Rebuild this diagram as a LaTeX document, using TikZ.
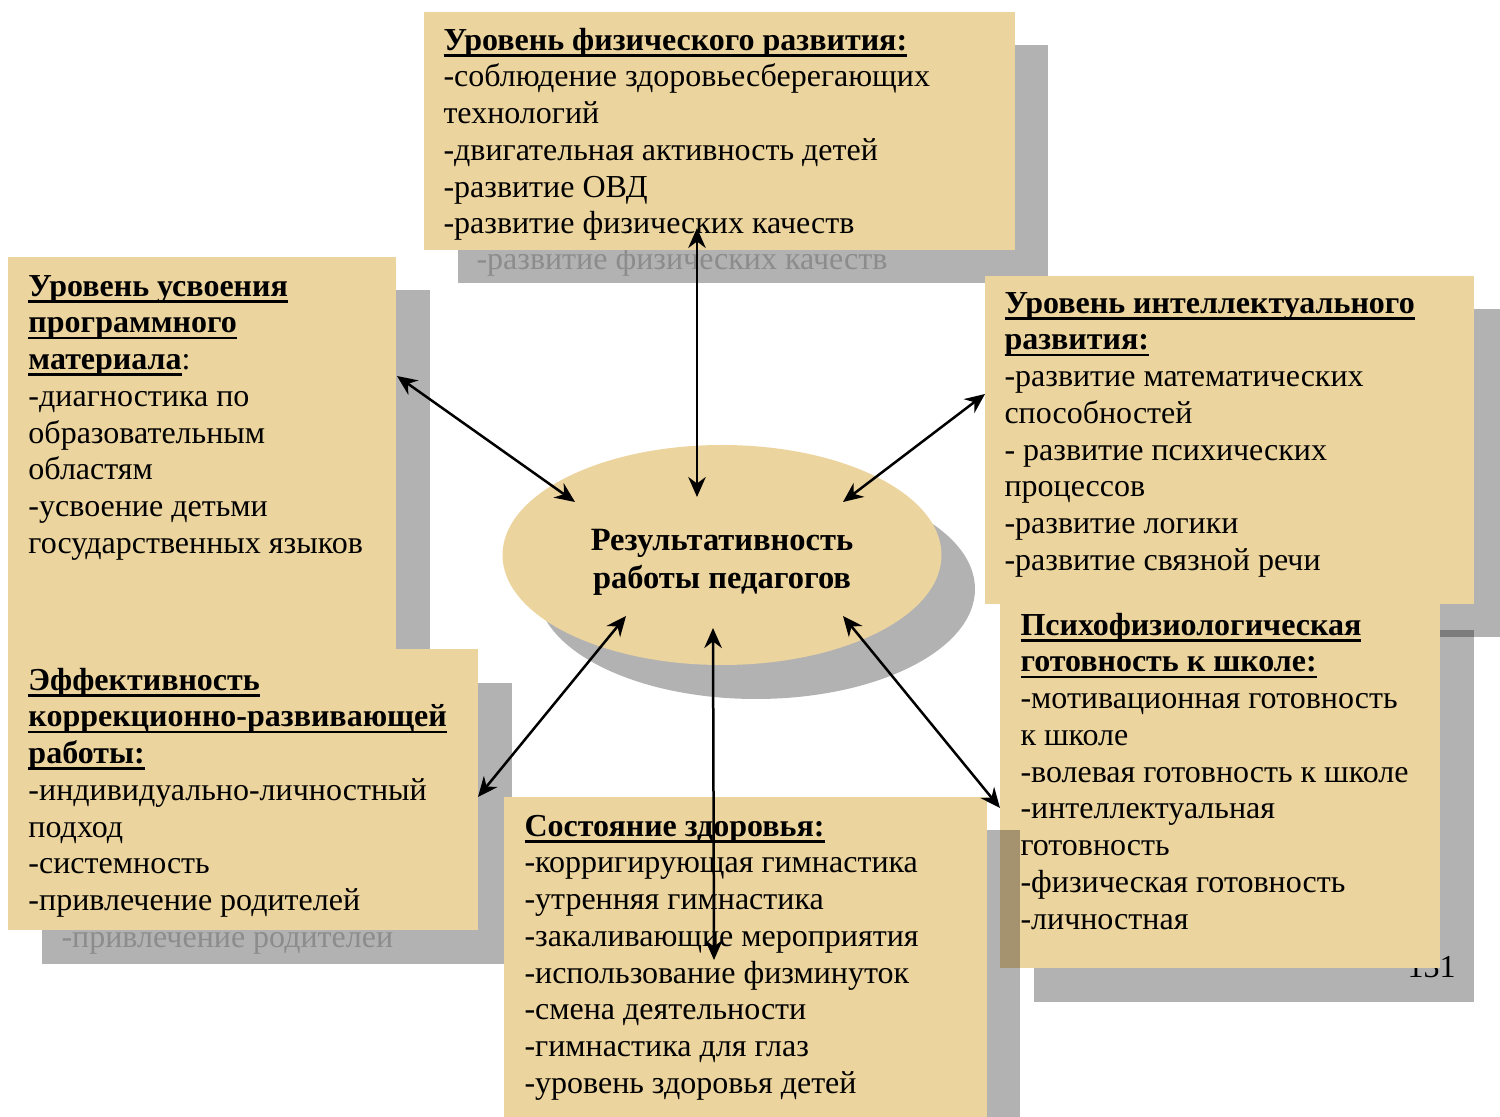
\documentclass[tikz,border=0pt]{standalone}
\usepackage{fontspec}
\setmainfont{Liberation Serif}
\usetikzlibrary{positioning,arrows.meta,shapes.geometric}

\definecolor{parch}{RGB}{236,212,158}
\newcommand\hdline[1]{\setbox0=\hbox{\bfseries #1}\rlap{\rule[-2.6pt]{\wd0}{1.1pt}}\box0}

\newcommand\physitems{\strut\hdline{Уровень физического развития:}\\-соблюдение здоровьесберегающих\\технологий\\-двигательная активность детей\\-развитие ОВД\\-развитие физических качеств}
\newcommand\progitems{\strut\hdline{Уровень усвоения}\\\hdline{программного}\\\hdline{материала}:\\-диагностика по\\образовательным\\областям\\-усвоение детьми\\государственных языков}
\newcommand\intelitems{\strut\hdline{Уровень интеллектуального}\\\hdline{развития:}\\-развитие математических\\способностей\\- развитие психических\\процессов\\-развитие логики\\-развитие связной речи}
\newcommand\corritems{\strut\hdline{Эффективность}\\\hdline{коррекционно-развивающей}\\\hdline{работы:}\\-индивидуально-личностный\\подход\\-системность\\-привлечение родителей}
\newcommand\psychitems{\strut\hdline{Психофизиологическая}\\\hdline{готовность к школе:}\\-мотивационная готовность\\к школе\\-волевая готовность к школе\\-интеллектуальная\\готовность\\-физическая готовность\\-личностная}
\newcommand\healthitems{\strut\hdline{Состояние здоровья:}\\-корригирующая гимнастика\\-утренняя гимнастика\\-закаливающие мероприятия\\-использование физминуток\\-смена деятельности\\-гимнастика для глаз\\-уровень здоровья детей}

\tikzset{
  items/.style={anchor=north west, inner sep=0pt, align=left, font=\fontsize{12.8}{14.7}\selectfont},
  ghost/.style={anchor=base west, inner sep=0pt, text=black!45, font=\fontsize{12.8}{14.7}\selectfont},
  sheet/.style={fill=parch},
  drop/.style={fill=black, fill opacity=0.3},
  link/.style={{Stealth[length=8pt,width=7pt]}-{Stealth[length=8pt,width=7pt]}, line width=1pt}
}

\begin{document}
\begin{tikzpicture}[x=0.4pt,y=-0.4pt]
\useasboundingbox (0,0) rectangle (1500,1117);
\clip (0,0) rectangle (1500,1117);

% physical development
\fill[drop] (458,45) rectangle (1048,283);
\node[ghost] (physsh) at (476,270) {-развитие физических качеств};
\fill[sheet] (424,12) rectangle (1015,250);
\node[items] (phys) at (443,24) {\physitems};

% programme material
\fill[drop] (42,290) rectangle (430,693);
\fill[sheet] (8,257) rectangle (396,660);
\node[items] (prog) at (28,270) {\progitems};

% correction work
\fill[drop] (42,683) rectangle (512,964);
\node[ghost] (corrsh) at (61,947) {-привлечение родителей};
\fill[sheet] (8,649) rectangle (478,930);
\node[items] (corr) at (28,664) {\corritems};

% intellectual development
\fill[drop] (1018,309) rectangle (1507,637);
\fill[sheet] (985,276) rectangle (1474,604);
\node[items] (intel) at (1004,287) {\intelitems};

% readiness for school
\fill[drop] (1034,630) rectangle (1474,1002);
\node[anchor=base east, inner sep=0pt, font=\fontsize{12.8}{14.7}\selectfont] (page) at (1456,977) {131};
\fill[sheet] (1000,596) rectangle (1440,968);
\node[items] (psych) at (1020,609) {\psychitems};

% health
\fill[drop] (537,830) rectangle (1020,1150);
\fill[sheet] (504,797) rectangle (987,1150);
\node[items] (health) at (524,810) {\healthitems};

% centre
\fill[drop] (756,589) ellipse [x radius=219, y radius=110];
\node[ellipse, fill=parch, minimum width=175.6pt, minimum height=88pt, inner sep=0pt,
  align=center, font=\bfseries\fontsize{13}{15.2}\selectfont] (res) at (722,555) {};
\node[align=center, inner sep=0pt, font=\bfseries\fontsize{13}{15.2}\selectfont] (restext) at (722,562)
  {Результативность\\работы педагогов};

\coordinate (physend) at (697,228);  \coordinate (resN) at (697,497);
\coordinate (progend) at (397,376);  \coordinate (resNW) at (575,502);
\coordinate (intelend) at (985,394); \coordinate (resNE) at (843,502);
\coordinate (corrend) at (478,797);  \coordinate (resSW) at (626,616);
\coordinate (healthend) at (714,960); \coordinate (resS) at (713,628);
\coordinate (psychend) at (1000,808); \coordinate (resSE) at (843,616);

\draw[link] (physend) -- (resN);
\draw[link] (progend) -- (resNW);
\draw[link] (intelend) -- (resNE);
\draw[link] (corrend) -- (resSW);
\draw[link] (healthend) -- (resS);
\draw[link] (psychend) -- (resSE);
\end{tikzpicture}
\end{document}
